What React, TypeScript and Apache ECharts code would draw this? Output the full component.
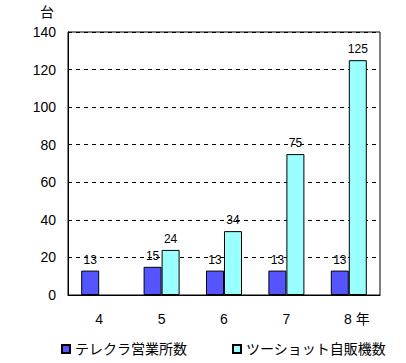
import React, { useEffect, useRef } from "react";
import * as echarts from "echarts";

const categories = ["4", "5", "6", "7", "8"];
const telecuraValues = [13, 15, 13, 13, 13];
const twoshotValues: (number | null)[] = [null, 24, 34, 75, 125];
const yTicks = { min: 0, max: 140, interval: 20 };
const seriesNames = ["テレクラ営業所数", "ツーショット自販機数"];

const FONT = "'Liberation Sans', 'Noto Sans CJK JP', sans-serif";

export default function App() {
  const ref = useRef<HTMLDivElement>(null);
  useEffect(() => {
    if (!ref.current) return;
    const chart = echarts.init(ref.current, undefined, { renderer: "svg" });
    chart.setOption({
      animation: false,
      backgroundColor: "#ffffff",
      grid: {
        left: 68,
        right: 26,
        top: 32,
        bottom: 68,
        show: true,
        borderColor: "#000",
        borderWidth: 1,
        backgroundColor: "transparent",
      },
      legend: {
        left: 56,
        top: 337,
        itemWidth: 8,
        itemHeight: 8,
        itemGap: 45,
        icon: "rect",
        textStyle: { fontFamily: FONT, fontSize: 14, color: "#000" },
        data: seriesNames,
      },
      xAxis: {
        type: "category",
        data: categories,
        axisLine: { lineStyle: { color: "#000", width: 1 } },
        axisTick: { inside: true, length: 5, lineStyle: { color: "#000" } },
        axisLabel: {
          interval: 0,
          margin: 17,
          fontFamily: FONT,
          fontSize: 14,
          color: "#000",
          formatter: (v: string) => (v === "8" ? "{pad|}8 {u|年}" : v),
          rich: {
            pad: { width: 16 },
            u: { fontFamily: FONT, fontSize: 14, color: "#000" },
          },
        },
      },
      yAxis: {
        type: "value",
        min: yTicks.min,
        max: yTicks.max,
        interval: yTicks.interval,
        name: "台",
        nameLocation: "end",
        nameGap: 13,
        nameTextStyle: { fontFamily: FONT, fontSize: 14, color: "#000", align: "center", padding: [0, 42, 0, 0] },
        axisLine: { show: true, lineStyle: { color: "#000", width: 1 } },
        axisTick: { show: false },
        axisLabel: { margin: 12, fontFamily: FONT, fontSize: 14, color: "#000" },
        splitLine: { lineStyle: { color: "#000", type: [4, 4], width: 1 } },
      },
      series: [
        {
          name: seriesNames[0],
          type: "bar",
          data: telecuraValues,
          barWidth: 18,
          barGap: "0%",
          itemStyle: { color: "#5555ff", borderColor: "#000", borderWidth: 1 },
          label: { show: true, position: "top", distance: 5, fontFamily: FONT, fontSize: 12, color: "#000" },
        },
        {
          name: seriesNames[1],
          type: "bar",
          data: twoshotValues,
          barWidth: 18,
          barGap: "0%",
          itemStyle: { color: "#99ffff", borderColor: "#000", borderWidth: 1 },
          label: { show: true, position: "top", distance: 5, fontFamily: FONT, fontSize: 12, color: "#000" },
        },
      ],
    });
    return () => chart.dispose();
  }, []);
  return (
    <div
      ref={ref}
      style={{ position: "absolute", left: 0, top: 0, width: 406, height: 363 }}
    />
  );
}
